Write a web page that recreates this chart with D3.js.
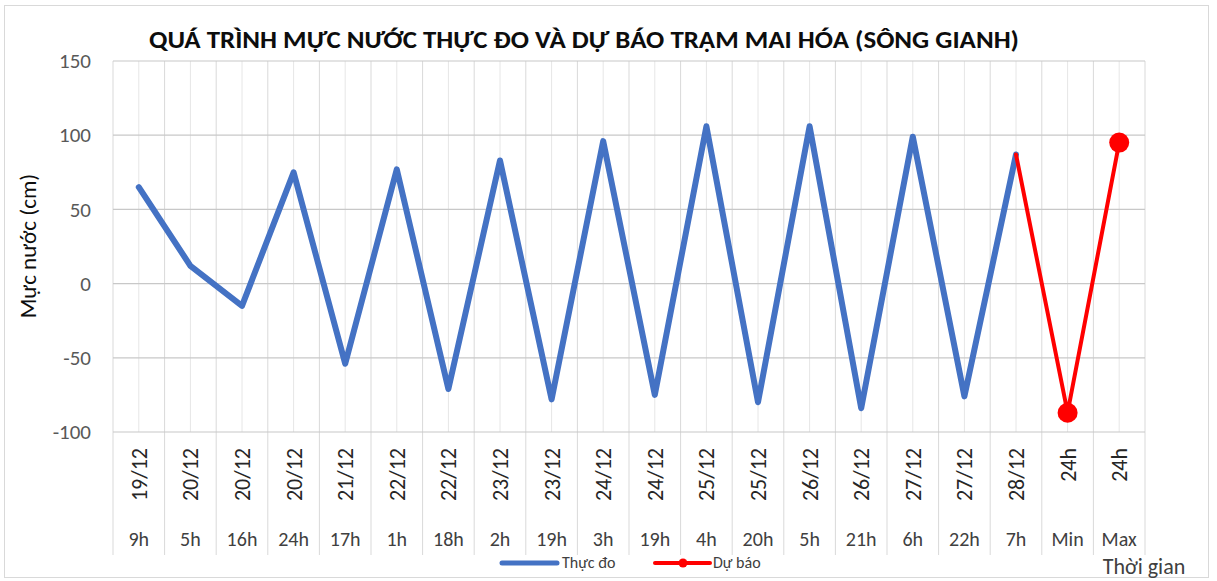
<!DOCTYPE html>
<html>
<head>
<meta charset="utf-8">
<script src="https://cdn.jsdelivr.net/npm/d3@7"></script>
<style>
  body { margin: 0; background: #fff; }
  svg text { font-family: Carlito, Calibri, Lato, sans-serif; }
</style>
</head>
<body>
<div class="graph"></div>
<script>
// chart data
var dates = ["19/12", "20/12", "20/12", "20/12", "21/12", "22/12", "22/12", "23/12", "23/12", "24/12",
             "24/12", "25/12", "25/12", "26/12", "26/12", "27/12", "27/12", "28/12", "24h", "24h"];
var hours = ["9h", "5h", "16h", "24h", "17h", "1h", "18h", "2h", "19h", "3h",
             "19h", "4h", "20h", "5h", "21h", "6h", "22h", "7h", "Min", "Max"];
var observed = [65, 12, -15, 75, -54, 77, -71, 83, -78, 96, -75, 106, -80, 106, -84, 99, -76, 87, null, null];
var forecast = [null, null, null, null, null, null, null, null, null, null,
                null, null, null, null, null, null, null, 87, -87, 95];
var forecastMarkers = [false, false, false, false, false, false, false, false, false, false,
                       false, false, false, false, false, false, false, false, true, true];
var yTicks = [-100, -50, 0, 50, 100, 150];

var loadChart = function () {
    const WIDTH = 1217;
    const HEIGHT = 581;
    const LEFT = 113;
    const RIGHT = 1145;
    const TOP = 61;
    const BOTTOM = 432;

    var keys = d3.range(hours.length);

    var xScale = d3.scaleBand().domain(keys).range([LEFT, RIGHT]);
    var yScale = d3.scaleLinear().domain([-100, 150]).range([BOTTOM, TOP]);
    var cx = function (i) { return xScale(i) + xScale.bandwidth() / 2; };

    var svg = d3.select(".graph").append("svg")
        .attr("width", WIDTH)
        .attr("height", HEIGHT);

    // outer frame
    svg.append("rect")
        .attr("x", 4.5).attr("y", 5.5)
        .attr("width", 1204).attr("height", 572)
        .style("fill", "#fff")
        .style("stroke", "#d9d9d9");

    // vertical gridlines: category edges and centres
    var edges = keys.map(function (k) { return xScale(k); }).concat([RIGHT]);
    svg.append("g").selectAll("line.vc")
        .data(keys).enter().append("line")
        .attr("x1", cx).attr("x2", cx)
        .attr("y1", TOP).attr("y2", BOTTOM)
        .style("stroke", "#e6e6e6");
    svg.append("g").selectAll("line.ve")
        .data(edges).enter().append("line")
        .attr("x1", function (d) { return d; }).attr("x2", function (d) { return d; })
        .attr("y1", TOP).attr("y2", 555)
        .style("stroke", "#d9d9d9");

    // y axis with horizontal gridlines (plain hyphen for negatives)
    var yAxis = d3.axisLeft(yScale).tickValues(yTicks).tickSize(0).tickPadding(22)
        .tickFormat(function (d) { return String(d); });
    var ya = svg.append("g")
        .attr("class", "y axis")
        .attr("transform", "translate(" + LEFT + ",0)")
        .call(yAxis);
    ya.select(".domain").remove();
    ya.selectAll("text")
        .style("font-size", "21px")
        .style("fill", "#595959");

    svg.append("g").selectAll("line.h")
        .data(yTicks).enter().append("line")
        .attr("x1", LEFT).attr("x2", RIGHT)
        .attr("y1", function (d) { return yScale(d); })
        .attr("y2", function (d) { return yScale(d); })
        .style("stroke", "#c8c8c8")
        .style("stroke-width", 1.2);

    // category labels: rotated dates and hours
    svg.append("g").selectAll("text.date")
        .data(keys).enter().append("text")
        .attr("transform", function (i) { return "translate(" + (cx(i) + 8) + ",448) rotate(-90)"; })
        .attr("text-anchor", "end")
        .style("font-size", "22px")
        .style("fill", "#262626")
        .text(function (i) { return dates[i]; });

    svg.append("g").selectAll("text.hour")
        .data(keys).enter().append("text")
        .attr("x", cx)
        .attr("y", 546)
        .attr("text-anchor", "middle")
        .style("font-size", "20px")
        .style("fill", "#404040")
        .text(function (i) { return hours[i]; });

    // lines
    var line = function (values) {
        return d3.line()
            .defined(function (i) { return values[i] !== null; })
            .x(cx)
            .y(function (i) { return yScale(values[i]); })(keys);
    };

    svg.append("path")
        .attr("d", line(observed))
        .style("fill", "none")
        .style("stroke", "#4472c4")
        .style("stroke-width", 6)
        .style("stroke-linejoin", "round")
        .style("stroke-linecap", "round");

    svg.append("path")
        .attr("d", line(forecast))
        .style("fill", "none")
        .style("stroke", "#ff0000")
        .style("stroke-width", 4)
        .style("stroke-linejoin", "round")
        .style("stroke-linecap", "round");

    svg.append("g").selectAll("circle")
        .data(keys.filter(function (i) { return forecastMarkers[i]; }))
        .enter().append("circle")
        .attr("cx", cx)
        .attr("cy", function (i) { return yScale(forecast[i]); })
        .attr("r", 10)
        .style("fill", "#ff0000");

    // titles
    svg.append("text")
        .attr("x", 584).attr("y", 48)
        .attr("text-anchor", "middle")
        .attr("textLength", 870)
        .attr("lengthAdjust", "spacingAndGlyphs")
        .style("font-size", "24px")
        .style("font-weight", "bold")
        .style("fill", "#0d0d0d")
        .text("QUÁ TRÌNH MỰC NƯỚC THỰC ĐO VÀ DỰ BÁO TRẠM MAI HÓA (SÔNG GIANH)");

    svg.append("text")
        .attr("transform", "translate(36,246) rotate(-90)")
        .attr("text-anchor", "middle")
        .style("font-size", "23px")
        .style("fill", "#0d0d0d")
        .text("Mực nước (cm)");

    svg.append("text")
        .attr("x", 1144).attr("y", 574)
        .attr("text-anchor", "middle")
        .style("font-size", "22px")
        .style("fill", "#404040")
        .text("Thời gian");

    // legend
    var legend = svg.append("g").attr("transform", "translate(502,563)");
    legend.append("line")
        .attr("x1", 0).attr("x2", 55)
        .style("stroke", "#4472c4").style("stroke-width", 5).style("stroke-linecap", "round");
    legend.append("text")
        .attr("x", 60).attr("y", 5)
        .style("font-size", "16px").style("fill", "#404040")
        .text("Thực đo");
    legend.append("line")
        .attr("x1", 153).attr("x2", 208)
        .style("stroke", "#ff0000").style("stroke-width", 4).style("stroke-linecap", "round");
    legend.append("circle")
        .attr("cx", 181).attr("r", 4.5)
        .style("fill", "#ff0000");
    legend.append("text")
        .attr("x", 211).attr("y", 5)
        .style("font-size", "16px").style("fill", "#404040")
        .text("Dự báo");
};

window.onload = loadChart;
</script>
</body>
</html>
